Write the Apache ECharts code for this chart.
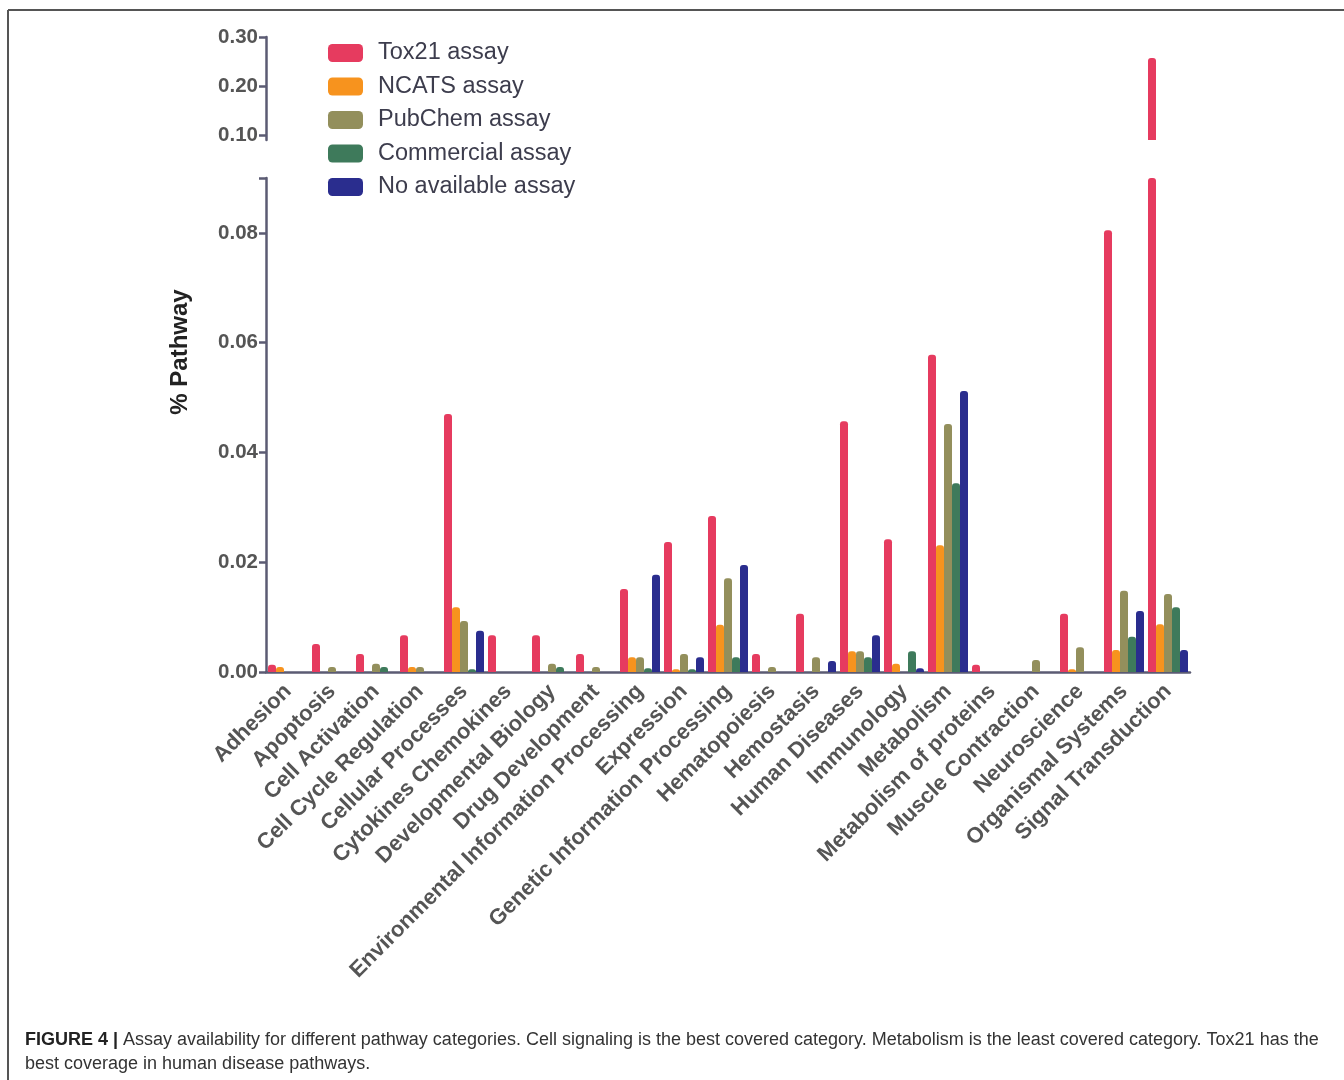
<!DOCTYPE html>
<html>
<head>
<meta charset="utf-8">
<script src="https://cdn.jsdelivr.net/npm/echarts@6/dist/echarts.min.js"></script>
<style>
  html, body { margin: 0; padding: 0; background: #fff; }
  #chart { width: 1344px; height: 1080px; }
</style>
</head>
<body>
<div id="chart"></div>
<script>
// pathway categories (x axis)
const categories = [
  'Adhesion', 'Apoptosis', 'Cell Activation', 'Cell Cycle Regulation', 'Cellular Processes',
  'Cytokines Chemokines', 'Developmental Biology', 'Drug Development',
  'Environmental Information Processing', 'Expression', 'Genetic Information Processing',
  'Hematopoiesis', 'Hemostasis', 'Human Diseases', 'Immunology', 'Metabolism',
  'Metabolism of proteins', 'Muscle Contraction', 'Neuroscience', 'Organismal Systems',
  'Signal Transduction'
];

// % pathway per assay source
const tox21 = [0.0013, 0.0051, 0.0033, 0.0067, 0.0470, 0.0067, 0.0067, 0.0033, 0.0151, 0.0237, 0.0284,
  0.0033, 0.0106, 0.0457, 0.0242, 0.0578, 0.0013, 0, 0.0106, 0.0805, 0.257];
const ncats = [0.0009, 0, 0, 0.0009, 0.0118, 0, 0, 0, 0.0027, 0.0005, 0.0086,
  0, 0, 0.0038, 0.0015, 0.0231, 0, 0, 0.0005, 0.0040, 0.0087];
const pubchem = [0, 0.0009, 0.0015, 0.0009, 0.0093, 0, 0.0015, 0.0009, 0.0027, 0.0033, 0.0171,
  0.0009, 0.0027, 0.0038, 0, 0.0452, 0, 0.0022, 0.0045, 0.0148, 0.0142];
const commercial = [0, 0, 0.0009, 0, 0.0005, 0, 0.0009, 0, 0.0007, 0.0005, 0.0027,
  0, 0, 0.0027, 0.0038, 0.0344, 0, 0, 0, 0.0064, 0.0118];
const noAssay = [0, 0, 0, 0, 0.0075, 0, 0, 0, 0.0177, 0.0027, 0.0195,
  0, 0.0020, 0.0067, 0.0007, 0.0512, 0, 0, 0, 0.0111, 0.0040];

// tick labels of the upper (broken) segment
const upperTicks = [0.1, 0.2, 0.3];

const seriesNames = ['Tox21 assay', 'NCATS assay', 'PubChem assay', 'Commercial assay', 'No available assay'];
const seriesData = [tox21, ncats, pubchem, commercial, noAssay];
const colors = ['#e63b5f', '#f7931e', '#938f5c', '#3e7a5b', '#2a2d8e'];

const axisColor = '#5b5b73';
const labelColor = '#555';
const font = '"Liberation Sans", Arial, sans-serif';

const chart = echarts.init(document.getElementById('chart'));

const series = [];
[0, 1].forEach(g => {
  seriesData.forEach((d, i) => {
    series.push({
      name: seriesNames[i],
      type: 'bar',
      xAxisIndex: g,
      yAxisIndex: g,
      data: d,
      barWidth: 8,
      barGap: '0%',
      clip: true,
      itemStyle: { color: colors[i], borderRadius: [3, 3, 0, 0] }
    });
  });
});

const caption1 = 'Assay availability for different pathway categories. Cell signaling is the best covered category. Metabolism is the least covered category. Tox21 has the';
const caption2 = 'best coverage in human disease pathways.';

chart.setOption({
  backgroundColor: '#fff',
  animation: false,
  color: colors,
  textStyle: { fontFamily: font },
  legend: {
    data: seriesNames,
    orient: 'vertical',
    left: 328,
    top: 41,
    padding: 0,
    itemWidth: 35,
    itemHeight: 18,
    itemGap: 9.5,
    icon: 'roundRect',
    textStyle: { fontSize: 23.5, color: '#3d3d4d', fontFamily: font, padding: [0, 0, 0, 10] }
  },
  grid: [
    { left: 266, right: 154, top: 178, height: 494 },
    { left: 266, right: 154, top: 37, height: 103 }
  ],
  xAxis: [
    {
      type: 'category',
      gridIndex: 0,
      data: categories,
      axisLine: { lineStyle: { color: axisColor, width: 2.5 } },
      axisTick: { alignWithLabel: true, length: 7, lineStyle: { color: axisColor, width: 2.5 } },
      axisLabel: {
        rotate: 45, margin: 16, interval: 0,
        fontSize: 22, fontWeight: 'bold', color: labelColor, fontFamily: font
      }
    },
    {
      type: 'category',
      gridIndex: 1,
      data: categories,
      show: false
    }
  ],
  yAxis: [
    {
      type: 'value',
      gridIndex: 0,
      min: 0, max: 0.09, interval: 0.02,
      splitLine: { show: false },
      axisLine: { show: true, lineStyle: { color: axisColor, width: 2.5 } },
      axisTick: { show: true, length: 7, lineStyle: { color: axisColor, width: 2.5 } },
      axisLabel: {
        margin: 8, fontSize: 20.5, fontWeight: 'bold', color: labelColor, fontFamily: font,
        formatter: v => (v > 0.085 ? '' : v.toFixed(2))
      }
    },
    {
      type: 'value',
      gridIndex: 1,
      min: 0.09, max: 0.3,
      splitLine: { show: false },
      axisLine: { show: true, lineStyle: { color: axisColor, width: 2.5 } },
      axisTick: { show: true, length: 7, customValues: upperTicks, lineStyle: { color: axisColor, width: 2.5 } },
      axisLabel: {
        margin: 8, fontSize: 20.5, fontWeight: 'bold', color: labelColor, fontFamily: font,
        customValues: upperTicks,
        formatter: v => v.toFixed(2)
      }
    }
  ],
  series: series,
  graphic: [
    // figure frame (top and left edges)
    { type: 'line', shape: { x1: 8, y1: 10, x2: 1344, y2: 10 }, style: { stroke: '#555', lineWidth: 2 } },
    { type: 'line', shape: { x1: 8, y1: 10, x2: 8, y2: 1080 }, style: { stroke: '#555', lineWidth: 2 } },
    {
      type: 'text',
      x: 180, y: 352,
      rotation: Math.PI / 2,
      style: {
        text: '% Pathway', fontSize: 24, fontWeight: 'bold', fill: '#222',
        fontFamily: font, align: 'center', verticalAlign: 'middle'
      }
    },
    {
      type: 'text',
      left: 25, top: 1028,
      style: {
        text: '{b|FIGURE 4 |} ' + caption1 + '\n' + caption2,
        rich: {
          b: { fontWeight: 'bold', fontSize: 18, fill: '#222', fontFamily: font, lineHeight: 24 }
        },
        fontSize: 18, fill: '#333', fontFamily: font, lineHeight: 24
      }
    }
  ]
});
</script>
</body>
</html>
